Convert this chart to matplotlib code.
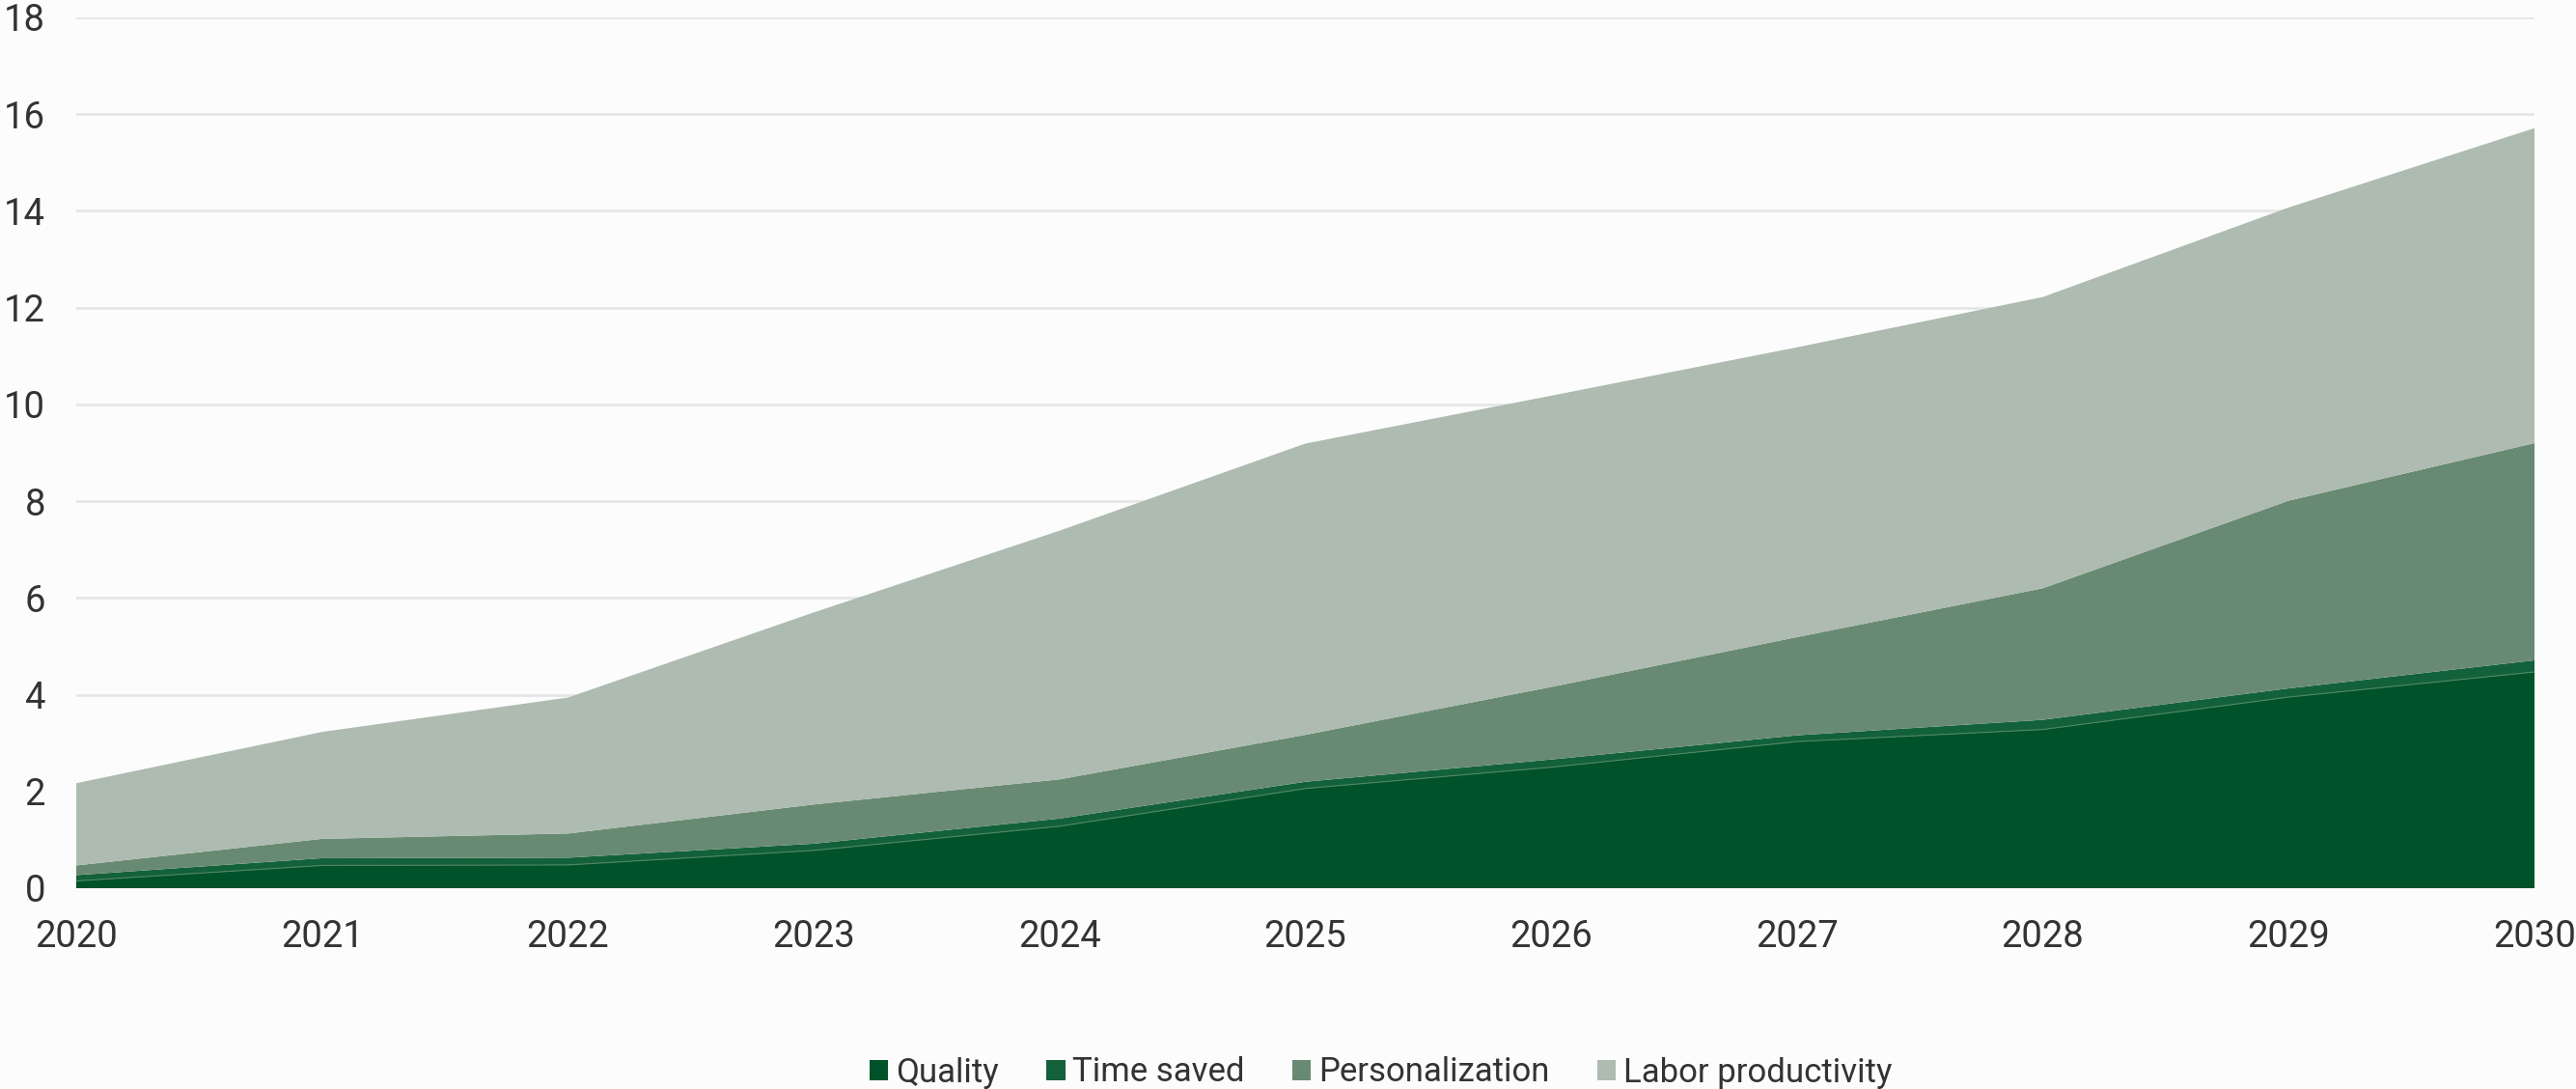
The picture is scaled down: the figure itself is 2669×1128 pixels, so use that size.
import matplotlib
matplotlib.use("Agg")
import matplotlib.pyplot as plt
from matplotlib.patches import Patch

# Data
years = [2020, 2021, 2022, 2023, 2024, 2025, 2026, 2027, 2028, 2029, 2030]
quality = [0.15, 0.47, 0.48, 0.78, 1.28, 2.06, 2.50, 3.03, 3.28, 3.95, 4.47]
time_saved = [0.12, 0.15, 0.15, 0.14, 0.16, 0.14, 0.16, 0.13, 0.20, 0.18, 0.24]
personalization = [0.20, 0.40, 0.50, 0.81, 0.81, 0.97, 1.50, 2.03, 2.72, 3.88, 4.49]
labor_productivity = [1.70, 2.21, 2.81, 3.97, 5.14, 6.02, 6.02, 5.99, 6.02, 6.06, 6.51]

series_names = ["Quality", "Time saved", "Personalization", "Labor productivity"]
colors = ["#00522A", "#13613A", "#688A72", "#AEBBB0"]
y_ticks = [0, 2, 4, 6, 8, 10, 12, 14, 16, 18]

W, H, DPI = 2669, 1128, 100
bg = "#FCFCFC"
text_color = "#333333"

plt.rcParams["font.family"] = ["Roboto", "DejaVu Sans"]

fig = plt.figure(figsize=(W / DPI, H / DPI), dpi=DPI, facecolor=bg)
ax = fig.add_axes([79 / W, 1 - 920 / H, (2626 - 79) / W, (920 - 18) / H])
ax.set_facecolor(bg)

ax.stackplot(years, quality, time_saved, personalization, labor_productivity,
             colors=colors, linewidth=0, zorder=2)

# faint seam on top of the quality layer
ax.plot(years, quality, color="#4f8563", lw=0.8, zorder=3)

ax.set_xlim(years[0], years[-1])
ax.set_ylim(0, 18)
ax.set_xticks(years)
ax.set_xticklabels([str(y) for y in years])
ax.set_yticks(y_ticks)
ax.set_yticklabels([str(v) for v in y_ticks])

ax.grid(axis="y", color="#E6E6E6", linewidth=2.0, zorder=0)
ax.set_axisbelow(True)
for s in ax.spines.values():
    s.set_visible(False)

ax.tick_params(axis="both", length=0, labelsize=27.5, colors=text_color)
ax.tick_params(axis="x", pad=23)
ax.tick_params(axis="y", pad=23)

handles = [Patch(facecolor=c, edgecolor="none") for c in colors]
fs = 25
fig.legend(handles, series_names, loc="center left",
           bbox_to_anchor=(901 / W, 1 - 1111 / H), ncol=4, frameon=False,
           fontsize=fs, borderpad=0, borderaxespad=0,
           handlelength=0.56, handleheight=0.56, handletextpad=0.22,
           columnspacing=1.42, labelcolor=text_color)

fig.savefig("out.png", dpi=DPI, facecolor=bg)
